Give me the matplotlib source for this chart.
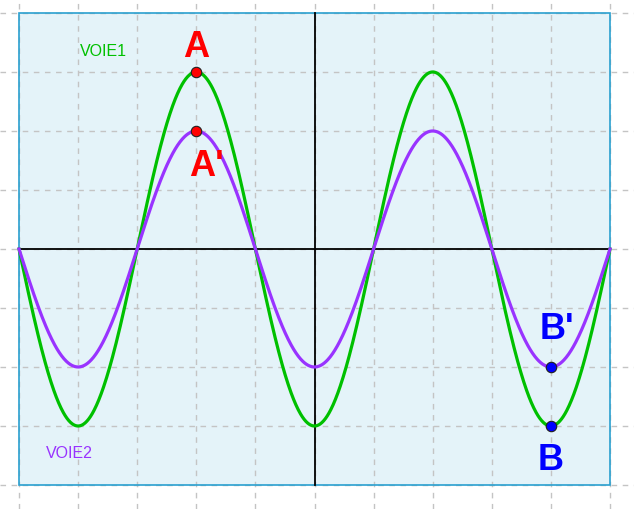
import numpy as np
import matplotlib
matplotlib.use('Agg')
import matplotlib.pyplot as plt
from matplotlib.patches import Rectangle

# oscilloscope screen: 10 x 8 divisions
x_divs = [-5, -4, -3, -2, -1, 0, 1, 2, 3, 4, 5]
y_divs = [-4, -3, -2, -1, 0, 1, 2, 3, 4]

# the two channels (amplitude in divisions, period in divisions)
amp_voie1 = 3
amp_voie2 = 2
period = 4
x_start = -5

# marked points
pt_names = ['A', "A'", 'B', "B'"]
pt_x = [-2, -2, 4, 4]
pt_y = [3, 2, -3, -2]

green = '#00c000'
purple = '#9933ff'

fig = plt.figure(figsize=(6.34, 5.10), dpi=100)
ax = fig.add_axes([0, 0, 1, 1])
ax.set_xlim(-5.3215, 5.406)
ax.set_ylim(-4.407, 4.237)
ax.axis('off')

# screen background, border drawn separately on top of the grid
ax.add_patch(Rectangle((-5, -4), 10, 8, facecolor='#e4f3f9', edgecolor='none', zorder=1))
ax.add_patch(Rectangle((-5, -4), 10, 8, facecolor='none', edgecolor='#2aa0d0',
                       linewidth=1.2, zorder=3))

# dashed grid over the whole picture
for xv in x_divs:
    ax.axvline(xv, color='#c4c4c4', linestyle=(0, (4, 4)), linewidth=1, zorder=2)
for yv in y_divs:
    ax.axhline(yv, color='#c4c4c4', linestyle=(0, (4, 4)), linewidth=1, zorder=2)

# axes
ax.plot([-5, 5], [0, 0], color='black', linewidth=1.3, zorder=3)
ax.plot([0, 0], [-4, 4], color='black', linewidth=1.3, zorder=3)

# signals
t = np.linspace(-5, 5, 1000)
phase = 2 * np.pi * (t - x_start) / period
ax.plot(t, -amp_voie1 * np.sin(phase), color=green, linewidth=2.3, zorder=4)
ax.plot(t, -amp_voie2 * np.sin(phase), color=purple, linewidth=2.3, zorder=4)

# points
for name, px, py in zip(pt_names, pt_x, pt_y):
    col = 'red' if name.startswith('A') else 'blue'
    ax.plot(px, py, 'o', color=col, markersize=7.5, markeredgecolor='#202020',
            markeredgewidth=0.8, zorder=5)

font = 'Liberation Sans'
ax.text(-2, 3.44, 'A', color='red', fontsize=26, fontweight='bold', family=font,
        ha='center', va='center', zorder=6)
ax.text(-1.83, 1.42, "A'", color='red', fontsize=26, fontweight='bold', family=font,
        ha='center', va='center', zorder=6)
ax.text(4.1, -1.34, "B'", color='blue', fontsize=26, fontweight='bold', family=font,
        ha='center', va='center', zorder=6)
ax.text(4, -3.56, 'B', color='blue', fontsize=26, fontweight='bold', family=font,
        ha='center', va='center', zorder=6)

ax.text(-3.58, 3.37, 'VOIE1', color=green, fontsize=11.5, family=font,
        ha='center', va='center', zorder=6)
ax.text(-4.14, -3.45, 'VOIE2', color=purple, fontsize=11.5, family=font,
        ha='center', va='center', zorder=6)

fig.savefig('out.png', dpi=100)
